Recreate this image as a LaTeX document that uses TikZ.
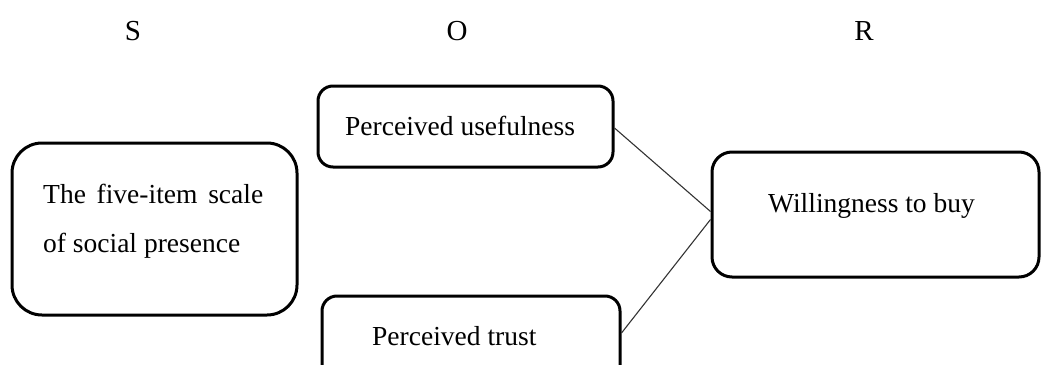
\documentclass[tikz,border=0pt]{standalone}
\usepackage{fontspec}
\setmainfont{Liberation Serif}
\begin{document}
\begin{tikzpicture}[x=1pt,y=-1pt,
  box/.style={draw=black,line width=3pt,rectangle,inner sep=0pt},
  txt/.style={inner sep=0pt,anchor=base west,font=\fontsize{27.5}{33}\selectfont},
  hdr/.style={inner sep=0pt,anchor=base,font=\fontsize{29}{34}\selectfont},
  link/.style={draw=black!80,line width=1.1pt}]
\path[use as bounding box] (0,0) rectangle (1041,364);
\clip (0,0) rectangle (1041,364);
% headers
\node[hdr] (hS) at (133,40) {S};
\node[hdr] (hO) at (457,40) {O};
\node[hdr] (hR) at (864,40) {R};
% boxes
\node[box,rounded corners=30pt,minimum width=285pt,minimum height=172pt] (sbox) at (154.5,229) {};
\node[box,rounded corners=15pt,minimum width=295pt,minimum height=81pt] (pu) at (465.5,126.5) {};
\node[box,rounded corners=15pt,minimum width=298pt,minimum height=90pt] (pt) at (471,341) {};
\node[box,rounded corners=20pt,minimum width=327pt,minimum height=125pt] (wb) at (875.5,214.5) {};
% texts
\node[txt] (t1) at (43,203) {\makebox[220pt][s]{The five-item scale}};
\node[txt] (t2) at (43,252) {of social presence};
\node[txt] (tpu) at (345,135) {Perceived usefulness};
\node[txt] (tpt) at (372,345) {Perceived trust};
\node[txt] (twb) at (768,212) {Willingness to buy};
% connectors
\coordinate (puout) at ([yshift=-1.5pt]pu.east);
\coordinate (ptout) at ([yshift=8pt]pt.east);
\coordinate (wbin1) at ([yshift=3pt]wb.west);
\coordinate (wbin2) at ([yshift=-5pt]wb.west);
\draw[link] (puout) -- (wbin1);
\draw[link] (ptout) -- (wbin2);
\end{tikzpicture}
\end{document}
